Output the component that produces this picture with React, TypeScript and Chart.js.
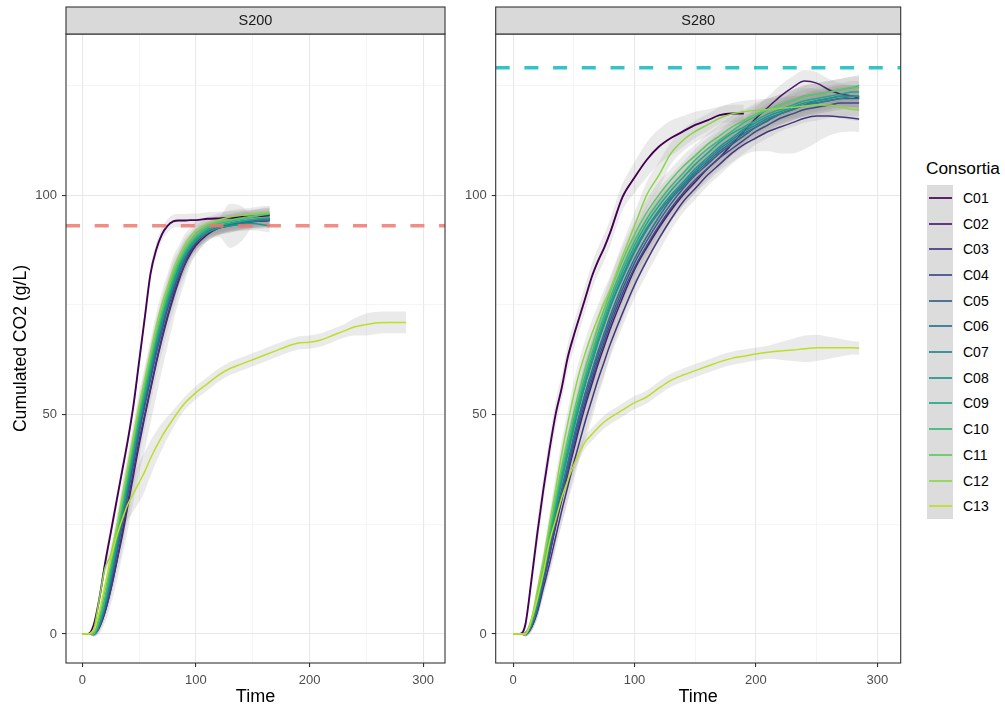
import React, { useEffect, useRef } from "react";
import { Chart, registerables } from "chart.js";

Chart.register(...registerables);

// ---------- categories / colours ----------
const SERIES = ["C01", "C02", "C03", "C04", "C05", "C06", "C07", "C08", "C09", "C10", "C11", "C12", "C13"];
const COLORS = ["#440154", "#481D6F", "#453581", "#3E4A89", "#35608D", "#2C728E", "#26848E", "#1F968B", "#22A884", "#38B977", "#5DC863", "#8AD647", "#BBDF27"];

// ---------- time grids ----------
const T200 = [0, 5, 10, 15, 20, 25, 30, 35, 40, 45, 50, 55, 60, 65, 70, 75, 80, 85, 90, 95, 100, 110, 120, 130, 140, 150, 160, 165];
const T200_LONG = [0, 5, 10, 15, 20, 25, 30, 35, 40, 45, 50, 55, 60, 70, 80, 90, 100, 110, 120, 130, 140, 150, 160, 170, 180, 190, 200, 210, 220, 230, 240, 250, 260, 270, 280, 285];
const T280 = [0, 5, 10, 15, 20, 25, 30, 35, 40, 45, 50, 55, 60, 65, 70, 75, 80, 90, 100, 110, 120, 130, 140, 150, 160, 170, 180, 190, 200, 210, 220, 230, 240, 250, 260, 270, 280, 285];

// ---------- S200 means ----------
const S200_C01 = [0, 0, 2, 8, 16, 23, 30, 37, 44, 52, 62, 72, 82, 87.5, 91, 93, 94, 94.2, 94.2, 94.3, 94.3, 94.6, 94.7, 94.8, 95, 95.1, 95.3, 95.4];
const S200_C02 = [0, 0, 0, 1.5, 5, 10, 16, 22, 29, 36, 43, 49.5, 55.5, 61.5, 67, 72, 76.5, 80.5, 84, 86.5, 88.5, 91, 92.5, 93.3, 93.8, 94, 94.1, 94.2];
const S200_C03 = [0, 0, 0, 1.5, 5, 10, 16, 23, 30, 37, 44, 50, 56, 62, 67.5, 72.5, 77, 81, 84, 87, 89, 91.5, 92.8, 93.5, 94, 94.2, 94.4, 94.5];
const S200_C04 = [0, 0, 0, 2, 6, 11, 18, 25, 32, 39, 46, 52, 58, 64, 69, 74, 78, 82, 85, 87.5, 89.5, 91.5, 92.6, 93.2, 93.6, 94, 94.3, 94.5];
const S200_C05 = [0, 0, 0, 2, 6, 12, 18, 25, 32, 39, 46, 52.5, 58.5, 64, 69.5, 74.5, 78.5, 82, 85, 87.5, 89.5, 91.5, 92.5, 93, 93.5, 94, 94.3, 94.5];
const S200_C06 = [0, 0, 0, 2, 6, 12, 19, 26, 33, 40, 47, 53.5, 59.5, 65, 70, 75, 79, 82.5, 85.5, 88, 89.5, 91.5, 92.5, 93.2, 93.6, 94, 94.2, 94.3];
const S200_C07 = [0, 0, 0, 2, 7, 13, 20, 27, 34, 41, 48, 54.5, 60.5, 66, 71, 76, 80, 83.5, 86.5, 88.5, 90, 92, 93, 93.5, 94, 94.3, 94.5, 94.5];
const S200_C08 = [0, 0, 0, 2, 7, 13, 20, 27, 34, 41, 48, 54, 60, 66, 71, 75.5, 79.5, 83, 86, 88, 89.5, 91.5, 92.5, 93, 93.3, 93.5, 93.2, 93];
const S200_C09 = [0, 0, 0, 3, 8, 14, 21, 28, 35, 42, 49, 55, 61, 67, 72, 76.5, 80.5, 84, 86.5, 88.5, 90, 92, 93, 93.6, 94, 94.4, 94.7, 94.8];
const S200_C10 = [0, 0, 0, 3, 8, 15, 22, 29, 36, 43, 50, 56, 62, 68, 73, 77, 81, 84.5, 87, 89, 90.5, 92.5, 93.5, 94, 94.5, 95, 95.5, 95.6];
const S200_C11 = [0, 0, 0, 4, 10, 16, 23, 30, 37, 44, 51, 57, 63, 68.5, 73.5, 78, 82, 85, 87.5, 89.5, 91, 93, 93.8, 94.3, 94.8, 95.2, 95.6, 95.8];
const S200_C12 = [0, 0, 1, 8, 15, 18, 24, 31, 38, 45, 52, 58, 64, 70, 75, 79, 83, 86, 88.5, 90.5, 92, 93.5, 94.3, 95, 95.4, 95.7, 96, 96];
const S200_C13 = [0, 0, 1, 5, 11, 17, 22, 26, 29.5, 32, 34.5, 37, 40, 45, 49, 52.5, 55, 57, 59, 60.5, 61.5, 62.5, 63.5, 64.5, 65.5, 66.3, 66.5, 67, 68, 69, 70, 70.5, 70.9, 71, 71, 71];

// ---------- S200 ribbon half-widths ----------
const W200 = [0, 0, 0.5, 1, 1.5, 2, 2.5, 3, 3, 3, 3, 3, 3, 3, 3, 3, 3, 2.5, 2.5, 2, 2, 1.5, 1.5, 1.5, 1.5, 1.5, 1.5, 1.5];
const W200_WIDE = [0, 0, 0.5, 1.5, 2.5, 3.5, 4.5, 5.5, 6.5, 7, 7.5, 8, 8, 8, 7.5, 7, 6, 5, 4, 3, 2.5, 2, 2, 2, 2, 2, 2, 2];
const W200_BUMP = [0, 0, 0.5, 1, 1.5, 2, 2.5, 3, 3, 3, 3, 3, 3, 3, 3, 3, 3, 2.5, 2.5, 2, 2, 2, 2, 5, 4, 1.5, 1.5, 1.5];
const W200_C01 = [0, 0, 0.5, 1, 1.5, 1.5, 1.5, 1.5, 1.5, 1.5, 1.5, 1.5, 1.5, 1.5, 1.5, 1.5, 1.5, 1.5, 1.5, 1.5, 1.5, 1.5, 1.5, 1.5, 1.5, 1.5, 1.5, 1.5];
const W200_C13 = [0, 0, 0.5, 1, 1.5, 2, 2.5, 3, 3.5, 4, 4.5, 4.5, 4, 3, 2, 1.5, 1.5, 1.5, 1.5, 1.5, 1.5, 1.5, 1.5, 1.5, 1.5, 1.5, 1.5, 1.5, 1.5, 1.5, 2, 2.5, 2.5, 2.5, 2.5, 2.5];

// ---------- S280 means ----------
const S280_C01 = [0, 0, 2, 12, 23, 33, 42, 50, 56, 63, 68, 72.5, 77, 81.5, 85, 88, 91.5, 99.5, 104, 108, 111, 113, 114.5, 116, 117, 118.2, 118.6, 118.6];
const S280_C02 = [0, 0, 0, 1.5, 5.5, 12, 18, 24.5, 30.5, 36.5, 42, 47.5, 52.5, 57, 61.5, 65.5, 69.5, 76.5, 83, 88, 92.5, 96.5, 100, 103, 106, 108.5, 111.5, 114.5, 117.5, 120, 122.5, 124.5, 126, 125.5, 124, 123, 122.5, 122];
const S280_C03 = [0, 0, 0, 1.5, 5, 10.5, 16, 22, 28, 33.5, 39, 44, 49, 53.5, 58, 62, 66, 73, 79.5, 85, 90, 94.5, 98.5, 101.5, 104.5, 107, 109.5, 111.5, 113, 114.5, 115.5, 116.5, 117.5, 118, 118, 117.8, 117.5, 117.3];
const S280_C04 = [0, 0, 0, 1.5, 5.5, 12, 18, 25, 31, 37, 43, 48.5, 53.5, 58, 62.5, 66.5, 70.5, 77.5, 83.5, 88.5, 93, 97, 100.5, 103.5, 106, 108.5, 110.5, 112.5, 114.5, 116, 117.5, 118.5, 119.5, 120, 120.5, 121, 121, 121];
const S280_C05 = [0, 0, 0, 2, 6, 12, 19, 26, 32, 38, 44, 49.5, 54.5, 59, 63.5, 67.5, 71.5, 78.5, 84.5, 89.5, 94, 98, 101.5, 104.5, 107, 109.5, 111.5, 113.5, 115.5, 117, 118.5, 119.5, 120.5, 121, 121.5, 122, 122, 122];
const S280_C06 = [0, 0, 0, 2, 6, 13, 20, 27, 33, 39, 45, 50.5, 55.5, 60, 64.5, 68.5, 72.5, 79.5, 85.5, 90.5, 95, 99, 102, 105, 107.5, 110, 112, 114, 115.5, 117, 118.5, 119.5, 120.5, 121.5, 122, 122.5, 122.5, 122.4];
const S280_C07 = [0, 0, 0, 2, 7, 14, 21, 28, 35, 41, 47, 52.5, 57.5, 62, 66.5, 70.5, 74.5, 81, 87, 92, 96, 99.5, 102.5, 105.5, 108, 110.5, 112.5, 114.5, 116, 117.5, 118.5, 119.5, 120.5, 121, 121.5, 122, 122.5, 122.5];
const S280_C08 = [0, 0, 0, 2, 7, 14, 21, 28, 35, 41, 47, 52.5, 57.5, 62, 66.5, 70.5, 74.5, 81.5, 87.5, 92.5, 96.5, 100, 103, 106, 108.5, 111, 113, 115, 116.5, 118, 119, 120, 121, 121.5, 122, 122.5, 122.5, 122.5];
const S280_C09 = [0, 0, 0, 2.5, 8, 15, 22, 29, 36, 42, 48, 53.5, 58.5, 63, 67.5, 71.5, 75.5, 82.5, 88.5, 93.5, 97.5, 101, 104, 107, 109.5, 112, 114, 115.5, 117, 118.5, 119.5, 120.5, 121.5, 122, 122.5, 123, 123.5, 123.5];
const S280_C10 = [0, 0, 0, 3, 8, 15, 23, 30, 37, 43, 49, 54.5, 59.5, 64, 68.5, 72.5, 76.5, 83.5, 89.5, 94.5, 98.5, 102, 105, 108, 110.5, 112.5, 114.5, 116.5, 118, 119.5, 120.5, 121.5, 122.5, 123, 123.5, 124, 124.5, 125];
const S280_C11 = [0, 0, 0, 3, 9, 16, 24, 31, 38, 44.5, 50.5, 56, 61, 65.5, 70, 74, 78, 85, 91, 96, 100, 103.5, 106.5, 109, 111.5, 113.5, 115.5, 117, 118.5, 119.5, 120.5, 121.5, 122.5, 123, 123.5, 124, 124.5, 124.5];
const S280_C12 = [0, 0, 0, 3, 10, 17, 25, 33, 41, 48, 54.5, 60, 64.5, 68.5, 72, 75.5, 78.5, 86, 93, 100, 104.5, 109.5, 112.5, 114.5, 116, 117.5, 118.5, 119, 119.3, 119.5, 119.8, 120, 120.3, 120.5, 120.5, 120, 119.5, 119.4];
const S280_C13 = [0, 0, 0, 3, 8, 14, 21, 26, 31, 35, 38.5, 41.5, 44, 45.5, 47, 48.3, 49.3, 51, 52.7, 54, 56, 57.8, 59, 60, 61, 62, 62.8, 63.3, 63.8, 64.2, 64.5, 64.7, 65, 65.2, 65.2, 65.2, 65.2, 65.1];

// ---------- S280 ribbon half-widths ----------
const W280 = [0, 0, 0.5, 1, 1.5, 2, 2.5, 3, 3, 3, 3, 3, 3, 3, 3, 3, 3, 3, 3, 3, 3, 2.5, 2.5, 2.5, 2.5, 2.5, 2.5, 2.5, 2.5, 2.5, 2.5, 2.5, 2.5, 2.5, 2.5, 2.5, 2.5, 2.5];
const W280_WIDE = [0, 0, 0.5, 1, 2, 3, 4, 5, 6, 7, 8, 8.5, 9, 9, 8.5, 8, 7, 6, 5, 4, 3.5, 3, 3, 3, 3, 3, 3, 3, 3, 3, 3, 3, 3, 3, 3, 3, 3, 3];
const W280_C03 = [0, 0, 0.5, 1, 1.5, 2, 2.5, 3, 3, 3, 3, 3, 3, 3, 3, 3, 3, 3, 3, 3, 3, 2.5, 2.5, 2.5, 2.5, 2.5, 2.5, 2.5, 3, 4.5, 6, 7, 7, 6, 4.5, 3.5, 3, 3];
const W280_C01 = [0, 0, 1, 2, 3, 3, 3, 3, 3, 3, 3, 3, 3, 3, 3, 3, 3, 3, 3.5, 4, 4, 4, 3.5, 3, 2.5, 2, 2, 2];
const W280_C13 = [0, 0, 0.5, 1, 1.5, 1.5, 1.5, 1.5, 1.5, 1.5, 1.5, 1.5, 1.5, 1.5, 1.5, 1.5, 1.5, 1.5, 1.5, 1.5, 1.5, 1.5, 1.5, 1.5, 1.5, 1.5, 1.5, 1.5, 1.5, 1.5, 2, 2.5, 3, 3, 2.5, 2, 1.5, 1.5];

// ---------- reference levels & axes ----------
const REF_S200 = 93;
const REF_S280 = 129;
const X_MIN = -14.3;
const X_MAX = 319.2;
const Y_MIN = -6.6;
const Y_MAX = 136.7;
const X_GRID = [0, 50, 100, 150, 200, 250, 300];
const X_LABELS = [0, 100, 200, 300];
const Y_GRID = [0, 25, 50, 75, 100, 125];
const Y_LABELS = [0, 50, 100];

const FONT = '"Liberation Sans", Arial, sans-serif';
const RIBBON = "rgba(150,150,150,0.2)";

type Panel = {
  title: string;
  times: number[][];
  values: number[][];
  widths: number[][];
  ref: number;
  refColor: string;
};

const PANEL_S200: Panel = {
  title: "S200",
  times: [T200, T200, T200, T200, T200, T200, T200, T200, T200, T200, T200, T200, T200_LONG],
  values: [S200_C01, S200_C02, S200_C03, S200_C04, S200_C05, S200_C06, S200_C07, S200_C08, S200_C09, S200_C10, S200_C11, S200_C12, S200_C13],
  widths: [W200_C01, W200, W200_WIDE, W200, W200_BUMP, W200, W200, W200, W200, W200, W200, W200, W200_C13],
  ref: REF_S200,
  refColor: "rgba(240,120,110,0.85)",
};

const PANEL_S280: Panel = {
  title: "S280",
  times: [T280, T280, T280, T280, T280, T280, T280, T280, T280, T280, T280, T280, T280],
  values: [S280_C01, S280_C02, S280_C03, S280_C04, S280_C05, S280_C06, S280_C07, S280_C08, S280_C09, S280_C10, S280_C11, S280_C12, S280_C13],
  widths: [W280_C01, W280, W280_C03, W280_WIDE, W280, W280, W280, W280, W280, W280, W280, W280, W280_C13],
  ref: REF_S280,
  refColor: "rgba(30,190,192,0.9)",
};

function buildDatasets(p: Panel) {
  const ds: any[] = [];
  p.values.forEach((vals, k) => {
    const t = p.times[k];
    const w = p.widths[k];
    const common = { pointRadius: 0, cubicInterpolationMode: "monotone" as const };
    ds.push({
      ...common,
      data: vals.map((v, i) => ({ x: t[i], y: v - w[i] })),
      borderWidth: 0,
      borderColor: "rgba(0,0,0,0)",
      fill: false,
      order: 3,
    });
    ds.push({
      ...common,
      data: vals.map((v, i) => ({ x: t[i], y: v + w[i] })),
      borderWidth: 0,
      borderColor: "rgba(0,0,0,0)",
      backgroundColor: RIBBON,
      fill: "-1",
      order: 3,
    });
    ds.push({
      ...common,
      data: vals.map((v, i) => ({ x: t[i], y: v })),
      borderWidth: k === 0 ? 1.9 : 1.5,
      borderColor: COLORS[k],
      fill: false,
      order: 1 + (12 - k) * 0.01,
    });
  });
  ds.push({
    data: [
      { x: X_MIN, y: p.ref },
      { x: X_MAX, y: p.ref },
    ],
    borderColor: p.refColor,
    borderWidth: 3.6,
    borderDash: [14, 14.7],
    pointRadius: 0,
    fill: false,
    order: 0,
  });
  return ds;
}

const panelDeco = {
  id: "panelDeco",
  afterDraw(chart: any, _args: any, opts: any) {
    const { ctx, chartArea } = chart;
    const { left, right, top, bottom } = chartArea;
    ctx.save();
    ctx.strokeStyle = "#333333";
    ctx.lineWidth = 1.1;
    ctx.strokeRect(left, top, right - left, bottom - top);
    const stripTop = 7;
    ctx.fillStyle = "#D9D9D9";
    ctx.fillRect(left, stripTop, right - left, top - stripTop);
    ctx.strokeRect(left, stripTop, right - left, top - stripTop);
    ctx.fillStyle = "#1A1A1A";
    ctx.font = `14.5px ${FONT}`;
    ctx.textAlign = "center";
    ctx.textBaseline = "middle";
    ctx.fillText(opts.title, (left + right) / 2, (stripTop + top) / 2 + 0.5);
    ctx.restore();
  },
};

function makeConfig(p: Panel, yAxisWidth: number, padRight: number, showYTitle: boolean): any {
  return {
    type: "line",
    data: { datasets: buildDatasets(p) },
    plugins: [panelDeco],
    options: {
      animation: false,
      responsive: false,
      devicePixelRatio: 1,
      layout: { padding: { top: 34, right: padRight, left: 0, bottom: 0 }, autoPadding: false },
      plugins: {
        legend: { display: false },
        tooltip: { enabled: false },
        panelDeco: { title: p.title },
      },
      scales: {
        x: {
          type: "linear",
          min: X_MIN,
          max: X_MAX,
          afterBuildTicks: (scale: any) => {
            scale.ticks = X_GRID.map((v) => ({ value: v }));
          },
          afterFit: (scale: any) => {
            scale.height = 46;
          },
          ticks: {
            autoSkip: false,
            maxRotation: 0,
            padding: 6,
            color: "#4D4D4D",
            font: { size: 13, family: FONT },
            callback: (v: number) => (X_LABELS.includes(v) ? String(v) : ""),
          },
          grid: {
            color: (c: any) => (c.tick && X_LABELS.includes(c.tick.value) ? "#E8E8E8" : "#EFEFEF"),
            lineWidth: (c: any) => (c.tick && X_LABELS.includes(c.tick.value) ? 1.1 : 0.6),
            tickColor: (c: any) => (c.tick && X_LABELS.includes(c.tick.value) ? "#333333" : "rgba(0,0,0,0)"),
            tickLength: 4,
            tickWidth: 1.1,
            drawTicks: true,
          },
          border: { display: false },
          title: {
            display: true,
            text: "Time",
            color: "#000000",
            font: { size: 18, family: FONT },
            padding: { top: 0, bottom: 1.2 },
          },
        },
        y: {
          type: "linear",
          min: Y_MIN,
          max: Y_MAX,
          afterBuildTicks: (scale: any) => {
            scale.ticks = Y_GRID.map((v) => ({ value: v }));
          },
          afterFit: (scale: any) => {
            scale.width = yAxisWidth;
          },
          ticks: {
            autoSkip: false,
            padding: 5,
            color: "#4D4D4D",
            font: { size: 13, family: FONT },
            callback: (v: number) => (Y_LABELS.includes(v) ? String(v) : ""),
          },
          grid: {
            color: (c: any) => (c.tick && Y_LABELS.includes(c.tick.value) ? "#E8E8E8" : "#EFEFEF"),
            lineWidth: (c: any) => (c.tick && Y_LABELS.includes(c.tick.value) ? 1.1 : 0.6),
            tickColor: (c: any) => (c.tick && Y_LABELS.includes(c.tick.value) ? "#333333" : "rgba(0,0,0,0)"),
            tickLength: 4,
            tickWidth: 1.1,
            drawTicks: true,
          },
          border: { display: false },
          title: {
            display: showYTitle,
            text: "Cumulated CO2 (g/L)",
            color: "#000000",
            font: { size: 17.6, family: FONT },
            padding: { top: 10.4, bottom: 0 },
          },
        },
      },
    },
  };
}

function PanelChart(props: { panel: Panel; left: number; width: number; yAxisWidth: number; padRight: number; showYTitle: boolean }) {
  const ref = useRef<HTMLCanvasElement | null>(null);
  useEffect(() => {
    if (!ref.current) return;
    const chart = new Chart(ref.current, makeConfig(props.panel, props.yAxisWidth, props.padRight, props.showYTitle));
    return () => chart.destroy();
  }, []);
  return (
    <canvas
      ref={ref}
      width={props.width}
      height={709}
      style={{ position: "absolute", left: props.left, top: 0, width: props.width, height: 709 }}
    />
  );
}

const LEGEND_TOP = 185;
const KEY_H = 25.7;

export default function App() {
  return (
    <div style={{ position: "absolute", left: 0, top: 0, width: 1005, height: 709, background: "#ffffff", overflow: "hidden", fontFamily: FONT }}>
      <PanelChart panel={PANEL_S200} left={0} width={450} yAxisWidth={66} padRight={5} showYTitle={true} />
      <PanelChart panel={PANEL_S280} left={450} width={455} yAxisWidth={45.7} padRight={4.3} showYTitle={false} />
      <div style={{ position: "absolute", left: 926, top: 158, fontSize: 17.3, lineHeight: "20px", color: "#000", whiteSpace: "nowrap" }}>Consortia</div>
      <div style={{ position: "absolute", left: 927, top: LEGEND_TOP, width: 26, height: KEY_H * SERIES.length, background: "#DCDCDC" }} />
      {SERIES.map((s, i) => {
        const cy = LEGEND_TOP + KEY_H * (i + 0.5);
        return (
          <React.Fragment key={s}>
            <div style={{ position: "absolute", left: 928.5, top: cy - 1, width: 23, height: 2, background: COLORS[i], opacity: 0.85 }} />
            <div style={{ position: "absolute", left: 963, top: cy - 10, fontSize: 14, lineHeight: "20px", color: "#000", whiteSpace: "nowrap" }}>{s}</div>
          </React.Fragment>
        );
      })}
    </div>
  );
}
